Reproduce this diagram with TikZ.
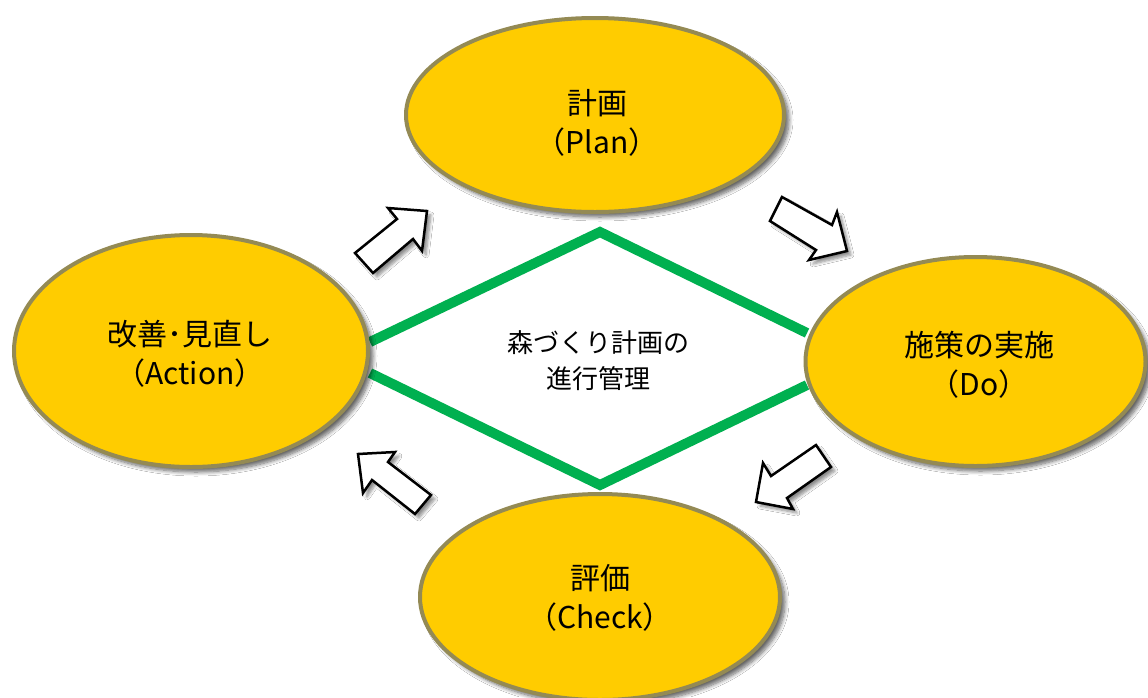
\documentclass[tikz,border=0pt]{standalone}
\usepackage{fontspec}
\newfontfamily\jp{Noto Sans CJK JP}
\usetikzlibrary{shapes.geometric,shadows,shadows.blur}
\definecolor{ellfill}{HTML}{FFCC00}
\definecolor{ellline}{HTML}{948A54}
\definecolor{dgreen}{HTML}{00B050}
\begin{document}
\begin{tikzpicture}[x=1pt,y=-1pt,
  ell/.style={ellipse, draw=ellline, line width=4pt, fill=ellfill, inner sep=0pt, outer sep=0pt,
    blur shadow={shadow xshift=5pt, shadow yshift=-5pt, shadow blur radius=4pt, shadow blur steps=8, shadow opacity=60}},
  lbl/.style={font=\jp\fontsize{30}{39}\selectfont, align=center, inner sep=0pt},
  ctr/.style={font=\jp\fontsize{26}{36}\selectfont, align=center, inner sep=0pt},
  blk/.style={draw=black, line width=2.5pt, fill=white, line join=miter,
    blur shadow={shadow xshift=4pt, shadow yshift=-4pt, shadow blur radius=3pt, shadow blur steps=6, shadow opacity=45}},
  gline/.style={draw=dgreen, line width=10pt, line join=miter}]
\useasboundingbox (0,0) rectangle (1148,697);
\fill[white] (0,0) rectangle (1148,697);

% green diamond
\coordinate (dl1) at (370,342);
\coordinate (dt) at (600,232);
\coordinate (dr1) at (807,333);
\coordinate (dl2) at (370,373);
\coordinate (db) at (600,485);
\coordinate (dr2) at (807,385);
\draw[gline] (dl1) -- (dt) -- (dr1);
\draw[gline] (dl2) -- (db) -- (dr2);

% ellipses
\node[ell, minimum width=378pt, minimum height=194pt] (plan) at (595,115) {};
\node[ell, minimum width=354pt, minimum height=232pt] (act) at (191,351) {};
\node[ell, minimum width=340pt, minimum height=209pt] (do) at (975.5,361.5) {};
\node[ell, minimum width=360pt, minimum height=206pt] (chk) at (600,597) {};

% labels
\node[lbl] (planlbl) at (597,123) {計画\\（Plan）};
\node[lbl] (actlbl) at (190,354) {改善･見直し\\（Action）};
\node[lbl] (dolbl) at (979,365) {施策の実施\\（Do）};
\node[lbl] (chklbl) at (600,598) {評価\\（Check）};

% centre text
\node[ctr] (ctrlbl) at (598,361) {森づくり計画の\\進行管理};

% block arrows
\path[blk] (355,253) -- (397,219) -- (388,208) -- (427,211) -- (422,251) -- (413,239) -- (373,273) -- cycle;
\path[blk] (782,197) -- (832,225) -- (837,212) -- (847,251) -- (809,260) -- (816,250) -- (770,221) -- cycle;
\path[blk] (816,445) -- (771,476) -- (763,463) -- (756,502) -- (793,509) -- (787,498) -- (831,467) -- cycle;
\path[blk] (358,454) -- (395,452) -- (388,462) -- (431,495) -- (415,514) -- (372,480) -- (363,493) -- cycle;
\end{tikzpicture}
\end{document}
